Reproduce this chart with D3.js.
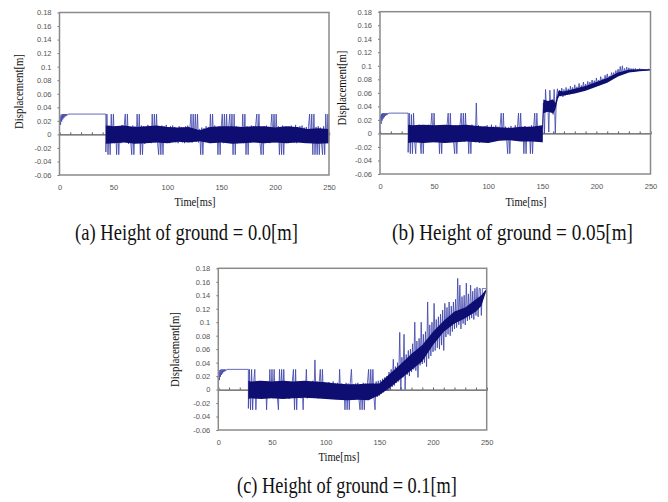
<!DOCTYPE html>
<html>
<head>
<meta charset="utf-8">
<script src="https://cdn.jsdelivr.net/npm/d3@7"></script>
<style>
  body { margin: 0; background: #fff; }
  svg { display: block; }
  .tick text { font-family: "Liberation Sans", Arial, sans-serif; font-size: 7.5px; fill: #555; }
  .ttl { font-family: "Liberation Serif", "Times New Roman", serif; fill: #111; }
</style>
</head>
<body>
<div class="container"></div>
<script>
// displacement values are kept in mm (1 mm = 0.001 m), time in ms

var width = 668;
var height = 502;

var yTickMm = [180, 160, 140, 120, 100, 80, 60, 40, 20, 0, -20, -40, -60];
var yTickLabels = ["0.18", "0.16", "0.14", "0.12", "0.1", "0.08", "0.06", "0.04", "0.02", "0", "-0.02", "-0.04", "-0.06"];
var xTicks = [0, 50, 100, 150, 200, 250];
var zeroTicks = [10, 20, 30, 40, 50, 60, 70, 80, 90, 100, 110, 120, 130, 140, 150, 160, 170, 180, 190, 200, 210, 220, 230, 240];

var captions = ["(a) Height of ground = 0.0[m]", "(b) Height of ground = 0.05[m]", "(c) Height of ground = 0.1[m]"];

// start-up transient, same in all three runs
var riseT  = [0, 0, 0.5, 1, 1.5, 2, 2.5, 3, 3.5, 4, 4.5, 5, 5.5, 6, 6.5, 7, 8];
var riseMm = [0, 18, 26, 14, 29, 19, 30, 22, 30, 24, 30, 26, 30, 27, 30, 28, 30];
var holdMm = 30;

// time the hold ends and the chatter starts, then one sample per ms
var dropA = 43;
var sigA = [
  -26, 30, -30, 13, -30, 30, -12, 30, -13, 11,
  -30, 12, -30, 10, -13, 14, -11, 12, 30, -12,
  30, -14, 11, -10, -30, 13, -30, 12, -12, 30,
  -11, 30, -30, 13, -30, 12, -14, 11, -12, 14,
  -10, 12, -13, 30, -11, 30, -12, 30, -13, -30,
  11, -30, 13, -30, 12, -11, 14, -12, 10, -13,
  12, -11, 13, -10, 11, -12, 9, -13, 12, -10,
  11, -12, 10, -13, 12, -9, 13, -11, 10, 30,
  -12, 30, -10, 30, -11, 30, -12, 8, -30, 10,
  -30, 9, -11, 12, -10, 11, -13, 30, -12, 30,
  -11, 13, -12, 10, -30, 12, -30, 11, 30, -13,
  30, -12, 30, -10, 12, 30, -11, 30, -30, 30,
  -30, 12, -13, 11, -12, 10, -11, 30, -13, 30,
  -30, 12, -30, 11, -12, 13, -10, 12, -11, 14,
  30, -12, 30, -13, -30, 11, -30, 12, -10, 13,
  -12, 11, -13, 10, 30, -11, 30, -12, 30, -10,
  12, -30, 11, -30, 13, -30, 10, -12, 11, -13,
  12, -10, 13, -11, 10, -12, 14, -13, 11, -10,
  12, -11, 13, -12, 10, -13, 11, -10, 12, 30,
  -12, 30, -30, 30, -30, 11, -30, 12, -30, 10,
  -12, -30, 12, -30, 30, -13, 30, -10
];
// dense dark core of the chatter (upper / lower edge)
var coreTA  = [43, 50, 60, 70, 80, 90, 100, 110, 120, 130, 140, 150, 160, 170, 180, 190, 200, 210, 220, 230, 240, 250];
var coreHiA = [13, 12, 13, 11, 12, 13, 11, 10, 11, 6, 11, 12, 12, 11, 12, 12, 10, 12, 11, 8, 9, 8];
var coreLoA = [-14, -13, -12, -14, -13, -12, -13, -11, -12, -10, -13, -12, -14, -13, -12, -13, -12, -13, -12, -13, -14, -13];

var dropB = 26;
var sigB = [
  -28, 30, -30, 28, -30, 30, -12, -30, 12, -11,
  13, -10, -30, 11, -30, 12, -13, 10, -12, 13,
  -11, 12, 30, -10, 30, -13, 11, -12, 10, -30,
  12, -30, 11, -13, 12, -10, 13, 30, -11, 30,
  -12, 10, -13, -30, 12, -30, 11, -12, 13, 30,
  -10, 30, -12, 30, -11, 12, -30, 10, -30, 13,
  -12, 11, -13, 45, -10, 12, -14, 10, -12, 9,
  -13, 11, -10, 12, -14, 9, -11, 13, -8, 10,
  -9, 12, -7, 10, -10, 11, 30, -8, 30, -9,
  10, -8, -30, 9, -30, 11, -9, 8, -10, 12,
  -7, 9, 30, -8, 30, -10, 9, -30, 11, -30,
  8, -9, 10, -30, 12, -30, 9, 30, -10, 30,
  -8, 11, -12, 10, -13,
  45, 0, 65, 32, 48, 2, 64, 35, 50, 28, 65, 0,
  52, 66, 53, 64, 55, 67, 54, 65, 56, 68,
  57, 66, 58, 70, 59, 68, 60, 72, 61, 69,
  62, 74, 63, 71, 64, 76, 65, 73, 66, 77,
  67, 76, 68, 79, 69, 78, 70, 82, 72, 79,
  73, 84, 74, 81, 75, 86, 77, 88, 78, 85,
  80, 90, 82, 90, 83, 93, 85, 95, 86, 99,
  87, 100, 88, 96, 89, 98, 90, 97, 91, 96,
  92, 96, 91, 96, 92, 95, 93, 96, 93, 95,
  94, 95, 93, 94, 94, 95, 94, 94
];
var coreTB  = [26, 30, 40, 50, 60, 70, 80, 90, 100, 110, 120, 130, 140, 150, 151, 155, 160, 162, 165, 170, 180, 190, 200, 210, 220, 230, 240, 250];
var coreHiB = [13, 12, 13, 12, 13, 12, 13, 11, 10, 9, 8, 10, 10, 12, 50, 48, 50, 45, 63, 62, 66, 70, 76, 82, 90, 94, 95, 95];
var coreLoB = [-14, -13, -14, -13, -14, -13, -12, -13, -14, -11, -10, -12, -12, -13, 30, 32, 30, 35, 55, 56, 59, 63, 69, 75, 84, 90, 92, 93];

var dropC = 28;
var sigC = [
  -28, 30, -30, 30, -30, 12, 30, -30, 11, -12,
  13, -10, 12, -13, 11, -11, 10, -30, 12, -12,
  30, -11, 30, -13, 30, -10, 12, -12, -30, 30,
  -11, 30, -12, 30, -13, 11, -10, 12, -14, 10,
  -12, 13, 30, -30, 30, -30, 12, -11, 10, -13,
  11, -30, 12, -10, 30, -13, 11, -12, 10, -11,
  13, -12, 44, -10, 12, -13, 11, 30, -12, 30,
  -11, 10, -13, 9, -12, 11, -14, 8, -10, 12,
  -13, 9, -11, 10, -14, 30, -12, 9, -10, 8,
  -30, 10, -30, 9, -30, 11, 30, -12, 8, -13,
  9, -11, 10, -14, -30, 8, -30, 10, -30, 9,
  -12, 11, 30, -13, 30, -10, 30, -12, -30, 12,
  -11, 13, -9, 14, -6, 16, -4, 18, -2, 20,
  -2, 26, 0, 30, 4, 45, 6, 34, 10, 40,
  12, 85, 0, 48, 18, 82, 0, 52, 22, 58,
  20, 60, 26, 68, 30, 100, 28, 72, 18, 76,
  36, 100, 38, 82, 40, 86, 34, 130, 46, 96,
  50, 100, 56, 128, 58, 104, 62, 108, 60, 112,
  66, 118, 58, 128, 78, 122, 82, 130, 80, 124,
  86, 130, 90, 134, 92, 165, 96, 155, 90, 138,
  98, 140, 96, 158, 102, 142, 104, 155, 106, 146,
  104, 150, 110, 152, 108, 150, 150, 110, 150, 150,
  150, 150, 150
];
var coreTC  = [28, 30, 40, 50, 60, 70, 80, 90, 100, 110, 120, 130, 140, 150, 160, 170, 180, 190, 200, 210, 220, 230, 240, 245, 250];
var coreHiC = [13, 12, 13, 12, 13, 12, 13, 12, 11, 9, 8, 8, 9, 9, 24, 38, 53, 66, 86, 102, 116, 122, 134, 140, 150];
var coreLoC = [-14, -13, -14, -13, -14, -13, -12, -13, -14, -15, -16, -15, -16, -8, 3, 16, 29, 42, 66, 86, 98, 106, 116, 124, 148];

var panels = [
  { left: 59.5, right: 329, top: 12.5, bottom: 175, drop: dropA, sig: sigA,
    coreT: coreTA, coreHi: coreHiA, coreLo: coreLoA, cap: captions[0],
    capX: 186.5, capY: 240, capW: 223, timeX: 195, timeY: 205.5, dispX: 23, dispY: 91.5 },
  { left: 380, right: 650.5, top: 11.7, bottom: 174, drop: dropB, sig: sigB,
    coreT: coreTB, coreHi: coreHiB, coreLo: coreLoB, cap: captions[1],
    capX: 512.5, capY: 240, capW: 241, timeX: 526, timeY: 205.5, dispX: 345.5, dispY: 88 },
  { left: 218.3, right: 486.7, top: 268.3, bottom: 430, drop: dropC, sig: sigC,
    coreT: coreTC, coreHi: coreHiC, coreLo: coreLoC, cap: captions[2],
    capX: 347, capY: 493, capW: 220, timeX: 339, timeY: 461, dispX: 178.5, dispY: 349.5 }
];

var svg = d3.select(".container").append("svg")
    .attr("width", width)
    .attr("height", height);

// squeeze a text horizontally (in its own frame) to a wanted width
var squeeze = function(t, cx, cy, w, rot) {
  t.attr("x", 0).attr("y", 0).attr("text-anchor", "middle");
  var k = w / t.node().getComputedTextLength();
  t.attr("transform", "translate(" + cx + "," + cy + ")" + (rot ? " rotate(-90)" : "") + " scale(" + k + ",1)");
};

panels.forEach(function(p) {
  var x = d3.scaleLinear().domain([0, 250]).range([p.left, p.right]);
  var y = d3.scaleLinear().domain([-60, 180]).range([p.bottom, p.top]);
  var g = svg.append("g");

  // y axis labels + small ticks
  g.append("g")
    .attr("transform", "translate(" + p.left + ",0)")
    .call(d3.axisLeft(y).tickValues(yTickMm)
      .tickFormat(function(d, i) { return yTickLabels[i]; })
      .tickSize(2).tickPadding(6))
    .call(function(a) {
      a.select(".domain").remove();
      a.selectAll("line").attr("stroke", "#777");
    });

  // x axis labels under the box
  g.append("g")
    .attr("transform", "translate(0," + p.bottom + ")")
    .call(d3.axisBottom(x).tickValues(xTicks).tickSize(0).tickPadding(10))
    .call(function(a) { a.select(".domain").remove(); });

  // zero line with its little ticks
  g.append("g")
    .attr("transform", "translate(0," + y(0) + ")")
    .call(d3.axisTop(x).tickValues(zeroTicks).tickSize(2).tickFormat(""))
    .call(function(a) {
      a.select(".domain").attr("stroke", "#555").attr("stroke-width", 1.3);
      a.selectAll("line").attr("stroke", "#555");
    });

  // signal
  var pts = riseT.map(function(t, i) { return [t, riseMm[i]]; });
  pts.push([p.drop, holdMm]);
  p.sig.forEach(function(v, i) { pts.push([p.drop + i, v]); });

  var line = d3.line()
    .x(function(d) { return x(d[0]); })
    .y(function(d) { return y(d[1]); });

  g.append("path")
    .datum(pts)
    .attr("d", line)
    .attr("fill", "none")
    .attr("stroke", "#3a40a8")
    .attr("stroke-width", 0.8)
    .attr("stroke-linejoin", "round");

  // dark core band
  var area = d3.area()
    .x(function(d, i) { return x(p.coreT[i]); })
    .y0(function(d, i) { return y(p.coreLo[i]); })
    .y1(function(d) { return y(d); });

  g.append("path")
    .datum(p.coreHi)
    .attr("d", area)
    .attr("fill", "#0d0d72");

  // frame
  g.append("rect")
    .attr("x", p.left).attr("y", p.top)
    .attr("width", p.right - p.left).attr("height", p.bottom - p.top)
    .attr("fill", "none")
    .attr("stroke", "#8a8a8a")
    .attr("stroke-width", 1.5);

  var tm = g.append("text").attr("class", "ttl").attr("font-size", 12.5).text("Time[ms]");
  squeeze(tm, p.timeX, p.timeY, 41, false);

  var dp = g.append("text").attr("class", "ttl").attr("font-size", 12.5).text("Displacement[m]");
  squeeze(dp, p.dispX, p.dispY, 75, true);

  var cp = g.append("text").attr("class", "ttl").attr("font-size", 24).text(p.cap);
  squeeze(cp, p.capX, p.capY, p.capW, false);
});
</script>
</body>
</html>
